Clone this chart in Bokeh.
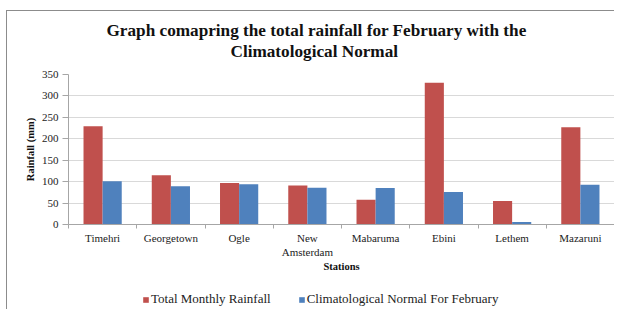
from bokeh.plotting import figure
from bokeh.layouts import column
from bokeh.models import (ColumnDataSource, Range1d, FixedTicker, Title, Legend,
                          LegendItem)
from bokeh.embed import file_html
from bokeh.resources import INLINE

stations = ["Timehri", "Georgetown", "Ogle", "New\nAmsterdam", "Mabaruma",
            "Ebini", "Lethem", "Mazaruni"]
total_rainfall = [229, 115, 97, 91, 58, 331, 55, 227]
normal_feb = [101, 89, 94, 86, 85, 76, 6, 93]
y_ticks = [0, 50, 100, 150, 200, 250, 300, 350]
series_names = ["Total Monthly Rainfall", "Climatological Normal For February"]

RED = "#C0504D"
BLUE = "#4F81BD"
FONT = "Liberation Serif"
BORDER = "1px solid #8C8C8C"
BW = 0.28

centers = [i + 0.5 for i in range(len(stations))]
src = ColumnDataSource(dict(
    xr=[c - BW / 2 for c in centers],
    xb=[c + BW / 2 for c in centers],
    total=total_rainfall,
    normal=normal_feb,
))

x_range = Range1d(0, len(stations))
p = figure(width=608, height=263, output_backend="svg", toolbar_location=None,
           x_range=x_range, y_range=Range1d(0, 350),
           min_border_left=61, min_border_right=1, min_border_top=63,
           min_border_bottom=50)
p.margin = (10, 0, 0, 6)
p.outline_line_color = None
p.background_fill_color = "white"
p.border_fill_color = "white"

r1 = p.vbar(x="xr", top="total", width=BW, source=src, fill_color=RED,
            line_color=None)
r2 = p.vbar(x="xb", top="normal", width=BW, source=src, fill_color=BLUE,
            line_color=None)

# x axis
p.xaxis.ticker = FixedTicker(ticks=centers,
                             minor_ticks=list(range(len(stations) + 1)))
p.xaxis.major_label_overrides = {c: s for c, s in zip(centers, stations)}
p.xaxis.major_tick_out = 0
p.xaxis.major_tick_in = 0
p.xaxis.minor_tick_out = 4
p.xaxis.minor_tick_in = 0
p.xaxis.axis_line_color = "#A6A6A6"
p.xaxis.minor_tick_line_color = "#A6A6A6"
p.xaxis.major_label_text_font = FONT
p.xaxis.major_label_text_font_size = "11px"
p.xaxis.major_label_text_color = "#222222"
p.xaxis.major_label_standoff = 3
p.xaxis.axis_label = "Stations"
p.xaxis.axis_label_text_font = FONT
p.xaxis.axis_label_text_font_size = "10.5px"
p.xaxis.axis_label_text_font_style = "bold"
p.xaxis.axis_label_text_color = "#111111"
p.xaxis.axis_label_standoff = 0
p.xgrid.grid_line_color = None

# y axis
p.yaxis.ticker = FixedTicker(ticks=y_ticks)
p.yaxis.minor_tick_line_color = None
p.yaxis.major_tick_out = 6
p.yaxis.major_tick_in = 0
p.yaxis.axis_line_color = "#A6A6A6"
p.yaxis.major_tick_line_color = "#A6A6A6"
p.yaxis.major_label_text_font = FONT
p.yaxis.major_label_text_font_size = "11px"
p.yaxis.major_label_text_color = "#222222"
p.yaxis.major_label_standoff = 4
p.yaxis.axis_label = "Rainfall (mm)"
p.yaxis.axis_label_text_font = FONT
p.yaxis.axis_label_text_font_size = "10.5px"
p.yaxis.axis_label_text_font_style = "bold"
p.yaxis.axis_label_text_color = "#111111"
p.yaxis.axis_label_standoff = 3
p.ygrid.ticker = FixedTicker(ticks=y_ticks)
p.ygrid.grid_line_color = "#D9D9D9"
p.ygrid.grid_line_width = 1

# title (two lines)
spacer = Title(text=" ", text_font_size="11px", standoff=0)
t2 = Title(text="Climatological Normal", align="left", text_font=FONT,
           text_font_size="17.2px", text_font_style="bold", text_color="#111111",
           standoff=0, offset=162)
t1 = Title(text="Graph comapring the total rainfall for February with the",
           align="left", text_font=FONT, text_font_size="17.2px",
           text_font_style="bold", text_color="#111111", standoff=0, offset=38)
p.add_layout(spacer, "above")
p.add_layout(t2, "above")
p.add_layout(t1, "above")
p.styles = {"border-left": BORDER, "border-top": BORDER}

# legend strip below the chart (its y range lies above the data, so the
# proxy bars that feed the legend are not visible)
lg = figure(width=608, height=36, output_backend="svg", toolbar_location=None,
            x_range=x_range, y_range=Range1d(1000, 1001),
            x_axis_location=None, y_axis_location=None,
            min_border_left=61, min_border_right=1, min_border_top=0,
            min_border_bottom=0)
lg.margin = (0, 0, 0, 6)
lg.outline_line_color = None
lg.grid.grid_line_color = None
lg.border_fill_color = "white"
g1 = lg.vbar(x="xr", top="total", width=BW, source=src, fill_color=RED, line_color=None)
g2 = lg.vbar(x="xb", top="normal", width=BW, source=src, fill_color=BLUE, line_color=None)
legend = Legend(items=[LegendItem(label=series_names[0], renderers=[g1]),
                       LegendItem(label=series_names[1], renderers=[g2])],
                orientation="horizontal", location=(74, 2),
                label_text_font=FONT, label_text_font_size="13px",
                label_text_color="#222222", label_height=12,
                glyph_width=7, glyph_height=7, label_standoff=2, spacing=27,
                padding=0, margin=0, border_line_color=None,
                background_fill_alpha=0)
lg.add_layout(legend)
lg.styles = {"border-left": BORDER}

layout = column(p, lg, spacing=0)
open("out.html", "w").write(file_html(layout, INLINE))
